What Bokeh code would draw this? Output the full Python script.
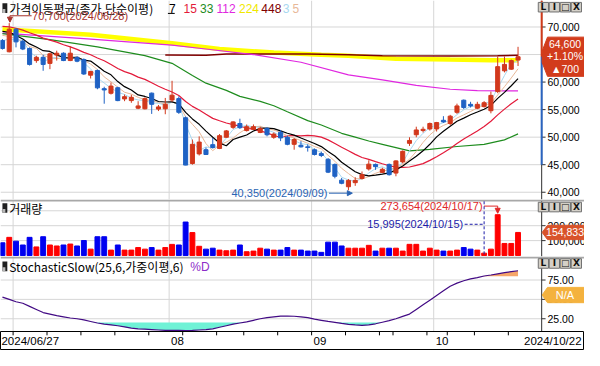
import numpy as np
import pandas as pd
from bokeh.plotting import figure
from bokeh.layouts import column
from bokeh.models import Range1d, Arrow, NormalHead
from bokeh.core.properties import value
from bokeh.embed import file_html
from bokeh.resources import INLINE

# ---------------- data ----------------
holidays = ["2024-08-15", "2024-09-16", "2024-09-17", "2024-09-18",
            "2024-10-01", "2024-10-03", "2024-10-09"]
dates = [d for d in pd.bdate_range("2024-06-27", "2024-10-22")
         if d.strftime("%Y-%m-%d") not in holidays]

opens = [67560, 65500, 69600, 67400, 66100, 63900, 64490, 63390, 64900, 65240,
         63910, 64490, 64080, 61250, 62110, 58800, 57970, 58970, 56940, 56640,
         55260, 55150, 57990, 55090, 55150, 56750, 57000, 53520, 45220, 46960,
         47720, 48640, 47950, 49980, 51780, 52480, 51200, 51430, 50850, 51600,
         49980, 50900, 49980, 48700, 48530, 48240, 47720, 47020, 45980, 45050,
         42200, 41000, 41740, 42500, 44230, 45050, 43600, 45050, 43480, 45510,
         48880, 50440, 51200, 51490, 51490, 53060, 52480, 54510, 56710, 55960,
         55260, 55550, 54800, 58280, 62050, 62340, 64000]
highs = [67800, 70700, 69800, 67700, 66300, 64780, 64950, 65360, 65700, 65400,
         66500, 64700, 64300, 62050, 62280, 59150, 59910, 59150, 57740, 57700,
         56530, 57230, 58100, 55840, 57120, 60230, 57410, 53750, 49570, 50150,
         48130, 49860, 50560, 51300, 52880, 53350, 52300, 52300, 51900, 51780,
         50850, 51300, 50270, 49860, 49280, 48700, 47950, 47380, 46210, 45220,
         42590, 42400, 42730, 43770, 45800, 45220, 44460, 45220, 45800, 47600,
         49980, 51900, 51900, 52650, 52770, 53810, 54050, 56080, 56830, 56420,
         56420, 56540, 58280, 64660, 64660, 64080, 66400]
lows = [65900, 65400, 66300, 65800, 63000, 63500, 62050, 62340, 63900, 63800,
        63800, 63600, 61300, 60650, 58700, 56070, 57740, 56530, 56530, 56240,
        55090, 55030, 54220, 54740, 54160, 56400, 54220, 44900, 45000, 46670,
        46800, 47950, 47830, 49900, 51490, 51490, 51030, 51300, 50730, 50150,
        49700, 49280, 48530, 47720, 48120, 47380, 46670, 46380, 43480, 42530,
        41450, 40350, 41160, 42320, 43940, 44060, 43480, 43020, 42900, 45220,
        48410, 49980, 50850, 51200, 51030, 52590, 52190, 54220, 55090, 55380,
        55090, 55380, 54330, 57990, 61760, 62220, 62920]
closes = [66100, 69600, 67300, 66000, 63200, 64500, 63200, 65130, 65240, 63910,
          65240, 63790, 61470, 61930, 58950, 58570, 59270, 56640, 57350, 57230,
          55670, 57000, 55960, 55490, 55960, 57620, 54510, 44930, 48700, 49110,
          46850, 48120, 50270, 51140, 52770, 51720, 51900, 51900, 51600, 50440,
          50560, 49860, 48700, 49570, 48240, 48120, 46850, 46670, 43650, 42900,
          41620, 42150, 42150, 43190, 45100, 44640, 44170, 43190, 45690, 47430,
          49400, 51310, 51430, 52480, 52650, 52770, 53810, 55670, 55380, 55670,
          55960, 56250, 57580, 62800, 63210, 63900, 64600]
volumes = [85500, 121900, 96200, 70600, 121900, 57700, 126100, 70600, 64100, 70600,
           77000, 64100, 100500, 42800, 126100, 126100, 36300, 70600, 36300, 36300,
           53500, 42800, 53500, 36300, 53500, 74800, 70600, 224500, 153900, 62000,
           42800, 49200, 36300, 32100, 36300, 70600, 25700, 29900, 49200, 42800,
           36300, 36300, 53500, 36300, 36300, 30000, 30000, 21400, 89800, 89800,
           64100, 49200, 49200, 49200, 68400, 30000, 49200, 49200, 49200, 30000,
           75000, 75000, 30000, 49200, 36300, 30000, 30000, 36300, 53500, 42800,
           36300, 15995, 42800, 273654, 81000, 81000, 154833]
closes_before = [70800, 71200, 71000, 70600, 70900, 71300, 70800,
                 70600, 70900, 71200, 70500, 69500, 68500, 67800]

ma33_i = [0, 7, 14, 21, 25, 28, 30, 33, 35, 38, 40, 42, 45, 47, 50, 52, 54, 56, 60, 63, 67, 71, 74, 76]
ma33_v = [68800, 67700, 66400, 64800, 63400, 61200, 59800, 58500, 57400, 56500, 55700, 54600,
          53000, 52200, 50700, 50000, 49300, 48700, 47500, 47800, 48300, 48700, 49500, 50600]
ma112_i = [0, 12, 25, 30, 37, 44, 51, 56, 61, 66, 70, 76]
ma112_v = [68900, 67900, 66700, 66000, 65000, 63600, 61300, 60400, 59400, 58700, 58450, 58400]
ma224_i = [0, 13, 25, 32, 40, 47, 51, 58, 66, 72, 76]
ma224_v = [69600, 68600, 67050, 66000, 65350, 64950, 64780, 64250, 64080, 63970, 63950]
ma448_i = [24, 30, 33, 45, 51, 56, 66, 73, 76]
ma448_v = [64900, 64850, 65100, 65100, 64950, 64780, 64750, 64800, 64850]

stoch_d = [53, 50, 47, 45, 41, 37, 33, 31, 29, 27.5,
           26, 25, 23.5, 21.5, 19.5, 18, 17, 16, 14.5, 13,
           12, 11.5, 11, 10.5, 10, 10, 10, 9.8, 10, 10.5,
           11, 12, 14, 16, 18, 19.5, 21, 23, 25, 26.5,
           27.5, 28.3, 28.5, 28.2, 27.5, 26.5, 24.5, 23, 21.5, 20.3,
           19, 17.8, 17, 16.5, 17, 18.5, 20.5, 22.5, 25, 28,
           31, 37, 43, 49, 55, 61, 67, 71, 74, 76.5,
           78, 80.2, 81.5, 83, 84.5, 85.8, 87]

price_ticks = [40000, 45000, 50000, 55000, 60000, 65000, 70000]
price_labels = ["40,000", "45,000", "50,000", "55,000", "60,000", "", "70,000"]
vol_ticks = [100000, 200000, 300000]
vol_labels = ["100,000", "200,000", ""]
stoch_ticks = [25, 50, 75]
stoch_labels = ["25.00", "50.00", "75.00"]

# ---------------- styles ----------------
RED, BLUE = "#d2381c", "#1f62c4"
VRED, VBLUE = "#ff0000", "#0000f0"
GRID = "#d6d6d6"
C7, C15, C33, C112, C224, C448, C3, C5 = ("#000000", "#e31a3a", "#1e8c1e", "#e028e0",
                                          "#ffff00", "#800000", "#a8d8f0", "#e8b898")
KR = "Noto Sans CJK KR"
LAT = "Liberation Sans"

W = 584
SY = 350 / 366
b1, b2, b3 = 199 / SY, 256 / SY, 331 / SY
PXW = 6.97


def X(rx):
    return (rx - 2.0) / PXW


xr = Range1d(X(0), X(600))
n = len(closes)
idx = np.arange(n)
o, h, l, c = map(np.array, (opens, highs, lows, closes))
allc = np.array(closes_before + closes, dtype=float)


def sma(k):
    return np.convolve(allc, np.ones(k) / k, mode="valid")[-n:]


up = c >= o
ccol = np.where(up, RED, BLUE)
vcol = np.where(up, VRED, VBLUE)
month_starts = [i for i in range(1, n) if dates[i].month != dates[i - 1].month]
week_starts = [i for i in range(1, n) if dates[i].isocalendar()[1] != dates[i - 1].isocalendar()[1]]
gx = [i - 3 / PXW for i in month_starts]
AX = X(556)


def mk(hh, yr):
    p = figure(width=W, height=hh, x_range=xr, y_range=yr, output_backend="svg",
               toolbar_location=None, x_axis_location=None, y_axis_location=None,
               min_border=0, min_border_left=0, min_border_right=0,
               min_border_top=0, min_border_bottom=0)
    p.outline_line_color = None
    p.grid.visible = False
    p.background_fill_color = "white"
    p.border_fill_color = "white"
    return p


def txt(p, x, y, s, color="black", size=12, font=LAT, align="left", baseline="middle", style="normal"):
    p.text(x=[x], y=[y], text=[s], text_color=color, text_font_size=f"{size}px",
           text_font=value(font), text_align=align, text_baseline=baseline,
           text_font_style=style)


def buttons(p, yf, ry):
    labs = ["L", "I", "\u25a1", "X"]
    for k, lab in enumerate(labs):
        x0 = 552.5 + k * 11.3
        p.quad(left=[X(x0)], right=[X(x0 + 10.5)], top=[yf(ry)], bottom=[yf(ry + 10)],
               fill_color="#d4d0c8", line_color="#707070", line_width=1)
        txt(p, X(x0 + 5.25), yf(ry + 5), lab, color="#101010", size=9, font="DejaVu Sans",
            align="center", style="bold")


def icon(p, yf, ry):
    p.quad(left=[X(2)], right=[X(7)], top=[yf(ry)], bottom=[yf(ry + 10)],
           fill_color="#202020", line_color=None)
    p.quad(left=[X(2)], right=[X(5)], top=[yf(ry + 6)], bottom=[yf(ry + 10)],
           fill_color="#b8b8b8", line_color=None)


def vgrid(p, ybot, ytop):
    p.segment(x0=gx, x1=gx, y0=[ybot] * len(gx), y1=[ytop] * len(gx), line_color=GRID, line_width=1)


def right_axis(p, ybot, ytop, ticks, labels, yf):
    p.segment(x0=[AX], x1=[AX], y0=[ybot], y1=[ytop], line_color="#303030", line_width=1)
    p.segment(x0=[AX] * len(ticks), x1=[X(560)] * len(ticks), y0=ticks, y1=ticks,
              line_color="#303030", line_width=1)
    for t, s in zip(ticks, labels):
        if s:
            txt(p, X(562), t, s, size=10.5)


# ---------------- price panel ----------------
PP = 173.6


def YP(ry):
    return 70000 - (ry - 27.7) * PP


p1 = mk(199, Range1d(YP(b1), YP(0)))
top1, bot1 = YP(0), YP(b1)
p1.segment(x0=[xr.start] * len(price_ticks), x1=[AX] * len(price_ticks), y0=price_ticks,
           y1=price_ticks, line_color=GRID, line_width=1)
vgrid(p1, bot1, top1)

p1.line(ma224_i, ma224_v, line_color=C224, line_width=4.5)
p1.line(ma448_i, ma448_v, line_color=C448, line_width=1.5)
p1.line(ma112_i, ma112_v, line_color=C112, line_width=1.2)
p1.line(ma33_i, ma33_v, line_color=C33, line_width=1.2)
p1.line(idx, sma(15), line_color=C15, line_width=1.2)
p1.line(idx, sma(5), line_color=C5, line_width=1)
p1.line(idx, sma(3), line_color=C3, line_width=1)
p1.line(idx, sma(7), line_color=C7, line_width=1.2)

p1.segment(x0=idx, x1=idx, y0=h, y1=l, line_color=ccol, line_width=1)
p1.vbar(x=idx, width=0.6, top=np.maximum(o, c), bottom=np.minimum(o, c),
        fill_color=ccol, line_color=ccol, line_width=1)

right_axis(p1, bot1, top1, price_ticks, price_labels, YP)
p1.segment(x0=[AX], x1=[AX], y0=[top1], y1=[c[-1]], line_color="#d03a1a", line_width=2)
p1.segment(x0=[AX], x1=[AX], y0=[c[-1]], y1=[45000], line_color="#2a64c0", line_width=2)

# current price box
cl, prev = int(c[-1]), int(c[-2])
chg = cl - prev
pct = chg / prev * 100
bt, bb = cl + 20.5 * PP, cl - 20.5 * PP
p1.patch([X(556.5), X(562), X(600), X(600), X(562), X(556.5)],
         [cl + 6 * PP, bt, bt, bb, bb, cl - 6 * PP], fill_color="#d23c1c", line_color="#d23c1c")
txt(p1, X(580), cl + 13.8 * PP, f"{cl:,}", color="white", size=10.5, align="center")
txt(p1, X(580), cl + 0.8 * PP, f"+{pct:.2f}%", color="white", size=10.5, align="center")
txt(p1, X(580), cl - 12.5 * PP, f"\u25b2{chg:,}", color="white", size=10.5, align="center")

buttons(p1, YP, 2)
icon(p1, YP, 3)
txt(p1, X(9), YP(8.5), "가격이동평균(종가,단순이평)", size=12, font=KR)
ma_title = [("7", C7, 173), ("15", C15, 188), ("33", C33, 205), ("112", C112, 222),
            ("224", "#f0e800", 245), ("448", C448, 268), ("3", C3, 290), ("5", C5, 300)]
for s, col, rx in ma_title:
    txt(p1, X(rx), YP(8.5), s, color=col, size=12)
p1.segment(x0=[X(172)], x1=[X(179)], y0=[YP(13.5)], y1=[YP(13.5)], line_color="black", line_width=1)

# high / low annotations
ih = int(np.argmax(h))
il = int(np.argmin(l))
HC = "#a8322a"
yt = h[ih] + 7.7 * PP
txt(p1, ih + 23.5 / PXW, yt, f"{int(h[ih]):,}({dates[ih]:%Y/%m/%d})", color=HC, size=11)
p1.segment(x0=[ih + 23 / PXW], x1=[ih + 0.1], y0=[yt], y1=[yt], line_color=HC, line_width=1)
p1.add_layout(Arrow(end=NormalHead(size=5, line_color=HC, fill_color=HC),
                    x_start=ih + 0.1, y_start=yt, x_end=ih + 0.1, y_end=h[ih] + 1.0 * PP,
                    line_color=HC, line_width=1))
LC = "#2a64b4"
yl = l[il] - 3.0 * PP
txt(p1, il - 21.5 / PXW, yl, f"{int(l[il]):,}({dates[il]:%Y/%m/%d})", color=LC, size=11, align="right")
p1.add_layout(Arrow(end=NormalHead(size=5, line_color=LC, fill_color=LC),
                    x_start=il - 20 / PXW, y_start=yl, x_end=il + 4 / PXW, y_end=yl,
                    line_color=LC, line_width=1))

# ---------------- volume panel ----------------
VP = 6409


def YV(ry):
    return (266.7 - ry) * VP


p2 = mk(57, Range1d(YV(b2), YV(b1)))
top2, bot2 = YV(b1), YV(b2)
p2.segment(x0=[xr.start] * len(vol_ticks), x1=[AX] * len(vol_ticks), y0=vol_ticks,
           y1=vol_ticks, line_color=GRID, line_width=1)
vgrid(p2, bot2, top2)
p2.vbar(x=idx, width=0.72, top=volumes, bottom=0, fill_color=vcol, line_color=vcol, line_width=1)
right_axis(p2, bot2, top2, vol_ticks, vol_labels, YV)
p2.segment(x0=[xr.start], x1=[xr.end], y0=[YV(b1 + 1)], y1=[YV(b1 + 1)], line_color="#a8a8a8", line_width=2)

vl = volumes[-1]
p2.patch([X(556.5), X(562), X(600), X(600), X(562)],
         [vl, vl + 7.5 * VP, vl + 7.5 * VP, vl - 7.5 * VP, vl - 7.5 * VP],
         fill_color="#d9532a", line_color="#d9532a")
txt(p2, X(580), vl, f"{vl:,}", color="white", size=10.5, align="center")

iv = int(np.argmax(volumes))
im = int(np.argmin(volumes))
VC1 = "#e02828"
yv1 = volumes[iv] + 9 * VP
txt(p2, iv - 15.5 / PXW, yv1, f"{volumes[iv]:,}({dates[iv]:%Y/%m/%d})", color=VC1, size=11, align="right")
p2.segment(x0=[iv - 14 / PXW], x1=[iv], y0=[yv1], y1=[yv1], line_color=VC1, line_width=1)
p2.add_layout(Arrow(end=NormalHead(size=5, line_color=VC1, fill_color=VC1),
                    x_start=iv, y_start=yv1, x_end=iv, y_end=volumes[iv] + 1.5 * VP,
                    line_color=VC1, line_width=1))
VC2 = "#1c1ca8"
yv2 = YV(234)
txt(p2, im - 21.5 / PXW, yv2, f"{volumes[im]:,}({dates[im]:%Y/%m/%d})", color=VC2, size=11, align="right")
p2.segment(x0=[im - 20 / PXW], x1=[im], y0=[yv2], y1=[yv2], line_color=VC2, line_width=1, line_dash="3 2")
p2.segment(x0=[im], x1=[im], y0=[YV(210)], y1=[0], line_color=VC2, line_width=1, line_dash="3 2")

buttons(p2, YV, 211)
icon(p2, YV, 212)
txt(p2, X(9), YV(217.5), "거래량", size=12, font=KR)

# ---------------- stochastic panel ----------------
def YS(ry):
    return 75 - (ry - 292.3) / 0.81


p3 = mk(75, Range1d(YS(b3), YS(b2)))
top3, bot3 = YS(b2), YS(b3)
p3.segment(x0=[xr.start] * len(stoch_ticks), x1=[AX] * len(stoch_ticks), y0=stoch_ticks,
           y1=stoch_ticks, line_color=GRID, line_width=1)
vgrid(p3, bot3, top3)
d = np.array(stoch_d, dtype=float)
p3.varea(x=idx, y1=np.minimum(d, 20), y2=np.full(n, 20.0), fill_color="#6ff2d6")
p3.varea(x=idx, y1=np.full(n, 80.0), y2=np.maximum(d, 80), fill_color="#f6a66a")
p3.line(idx, d, line_color="#420a84", line_width=1.2)
right_axis(p3, bot3, top3, stoch_ticks, stoch_labels, YS)
p3.segment(x0=[xr.start], x1=[xr.end], y0=[YS(b2 + 1)], y1=[YS(b2 + 1)], line_color="#a8a8a8", line_width=2)
na_c = YS(308)
p3.patch([X(556.5), X(562), X(600), X(600), X(562)],
         [na_c, na_c + 8 / 0.81, na_c + 8 / 0.81, na_c - 8 / 0.81, na_c - 8 / 0.81],
         fill_color="#f4b23e", line_color="#f4b23e")
txt(p3, X(580), na_c, "N/A", color="white", size=11, align="center")
buttons(p3, YS, 270)
icon(p3, YS, 273)
txt(p3, X(9), YS(278.5), "StochasticSlow(25,6,가중이평,6)", size=12, font=KR)
txt(p3, X(195), YS(278.5), "%D", color="#8c2cc8", size=12)

# ---------------- date band ----------------
def YB(ry):
    return (366 - ry) / (366 - b3)


p4 = mk(19, Range1d(0, 1))
p4.outline_line_color = "black"
wx = [i - 3 / PXW for i in week_starts]
p4.segment(x0=wx, x1=wx, y0=[1] * len(wx), y1=[YB(b3 + 4)] * len(wx), line_color="black", line_width=1)
txt(p4, X(1), YB(356.5), f"{dates[0]:%Y/%m/%d}", size=11.5)
for i, x in zip(month_starts[1:], gx[1:]):
    txt(p4, x + 2 / PXW, YB(356.5), f"{dates[i]:%m}", size=11.5)
txt(p4, X(597), YB(356.5), f"{dates[-1]:%Y/%m/%d}", size=11.5, align="right")

layout = column(p1, p2, p3, p4, spacing=0)
open("out.html", "w").write(file_html(layout, INLINE))
